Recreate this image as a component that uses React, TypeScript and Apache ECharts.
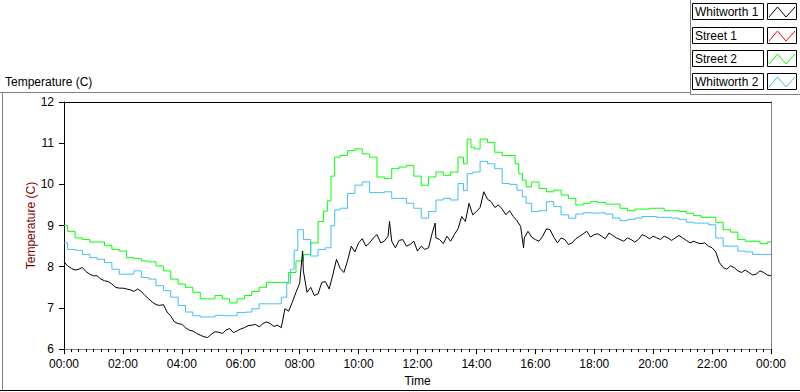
import React, { useEffect, useRef } from "react";
import * as echarts from "echarts";

// Sample grid: one reading every 15 minutes from 00:00 to 24:00
const STEP_MIN = 15;

const SERIES_NAMES = ["Whitworth 1", "Street 1", "Street 2", "Whitworth 2"];
const SERIES_COLORS = ["#000000", "#ff0000", "#00ff00", "#40bdf8"];

const whitworth1 = [
  8.12, 7.96, 7.94, 7.88, 7.78, 7.7, 7.64, 7.5, 7.48, 7.44, 7.46, 7.3, 7.14, 7.06, 6.9, 6.66,
  6.6, 6.46, 6.38, 6.3, 6.36, 6.41, 6.46, 6.4, 6.49, 6.57, 6.6, 6.62, 6.62, 6.58, 6.98, 7.14,
  7.6, 7.38, 7.3, 7.62, 7.46, 8.18, 7.86, 8.5, 8.58, 8.5, 8.7, 8.58, 8.74, 8.46, 8.66, 8.54,
  8.38, 8.42, 8.82, 8.66, 8.74, 8.78, 9.22, 9.54, 9.34, 9.82, 9.58, 9.5, 9.26, 9.22, 8.98, 8.86,
  8.66, 8.74, 8.9, 8.58, 8.66, 8.58, 8.74, 8.86, 8.78, 8.74, 8.82, 8.7, 8.62, 8.66, 8.66, 8.74,
  8.74, 8.66, 8.7, 8.7, 8.7, 8.58, 8.58, 8.58, 8.46, 8.1, 7.94, 7.98, 7.86, 7.86, 7.82, 7.86,
  7.78,
];
// Whitworth 1 readings half-way between the 15-minute samples (xx:07.5, xx:22.5, ...)
const whitworth1Mid = [
  8.02, 7.92, 7.98, 7.82, 7.78, 7.66, 7.58, 7.48, 7.46, 7.4, 7.4, 7.22, 7.08, 7.08, 6.8, 6.62,
  6.52, 6.44, 6.34, 6.28, 6.42, 6.38, 6.5, 6.44, 6.52, 6.58, 6.54, 6.66, 6.55, 6.52, 6.92, 7.38,
  7.9, 7.5, 7.34, 7.64, 7.8, 7.96, 8.14, 8.36, 8.68, 8.58, 8.78, 8.62, 8.62, 8.64, 8.5, 8.62,
  8.5, 8.46, 8.7, 8.56, 8.62, 8.92, 9.1, 9.26, 9.44, 9.64, 9.44, 9.4, 9.36, 9.12, 8.7, 8.72,
  8.62, 8.92, 8.72, 8.7, 8.54, 8.68, 8.8, 8.72, 8.8, 8.68, 8.76, 8.66, 8.7, 8.6, 8.78, 8.68,
  8.7, 8.74, 8.64, 8.76, 8.64, 8.62, 8.56, 8.5, 8.36, 7.98, 8.02, 7.9, 7.92, 7.8, 7.9, 7.8,
];
// extra short spikes of Whitworth 1: [minute, value]
const whitworth1Spikes = [
  [486, 8.38],
  [663, 9.1],
  [756, 9.06],
  [936, 8.46],
];

const street1: number[] = [];

const street2 = [
  9.0, 8.86, 8.7, 8.66, 8.6, 8.6, 8.52, 8.42, 8.38, 8.22, 8.2, 8.14, 8.12, 8.02, 7.9, 7.7,
  7.58, 7.5, 7.38, 7.22, 7.22, 7.3, 7.22, 7.12, 7.22, 7.3, 7.4, 7.5, 7.62, 7.62, 7.62, 7.86,
  8.14, 8.3, 8.58, 9.1, 9.6, 10.66, 10.7, 10.82, 10.86, 10.74, 10.66, 10.18, 10.14, 10.38, 10.42, 10.46,
  10.2, 9.98, 10.18, 10.3, 10.22, 10.3, 10.66, 11.1, 10.86, 11.1, 11.02, 10.78, 10.7, 10.7, 10.26, 9.94,
  10.06, 9.9, 9.82, 9.86, 9.74, 9.66, 9.5, 9.54, 9.58, 9.56, 9.52, 9.52, 9.42, 9.36, 9.4, 9.4,
  9.42, 9.42, 9.36, 9.36, 9.34, 9.3, 9.24, 9.2, 9.2, 9.08, 8.9, 8.84, 8.66, 8.62, 8.62, 8.56,
  8.6,
];
// extra readings on the steep parts of Street 2: [minute, value]
const street2Extra = [
  [532.5, 9.35],
  [547.5, 10.2],
  [817.5, 10.5],
  [832.5, 10.9],
  [922.5, 10.5],
  [937.5, 10.1],
];

const whitworth2 = [
  8.58, 8.42, 8.4, 8.3, 8.22, 8.18, 8.1, 7.94, 7.82, 7.82, 7.9, 7.74, 7.7, 7.54, 7.42, 7.26,
  7.06, 6.9, 6.81, 6.78, 6.78, 6.82, 6.81, 6.81, 6.89, 6.9, 6.98, 7.1, 7.1, 7.1, 7.26, 7.94,
  8.9, 8.66, 8.26, 8.42, 8.46, 9.38, 9.42, 9.78, 9.98, 10.06, 9.8, 9.8, 9.82, 9.66, 9.66, 9.54,
  9.42, 9.18, 9.34, 9.62, 9.66, 9.62, 10.02, 10.26, 10.3, 10.56, 10.5, 10.38, 10.02, 10.0, 9.86, 9.54,
  9.34, 9.36, 9.58, 9.46, 9.26, 9.18, 9.28, 9.31, 9.3, 9.31, 9.28, 9.18, 9.12, 9.15, 9.18, 9.22,
  9.22, 9.2, 9.2, 9.18, 9.15, 9.08, 9.06, 9.06, 9.02, 8.7, 8.5, 8.5, 8.38, 8.36, 8.3, 8.3,
  8.3,
];
// extra readings on the steep parts of Whitworth 2: [minute, value]
const whitworth2Extra = [
  [457.5, 7.6],
  [472.5, 8.4],
  [547.5, 9.0],
  [817.5, 9.85],
  [937.5, 9.7],
];

const Y_MIN = 6;
const Y_MAX = 12;
const X_MAX_MIN = 1440;

const FONT = "'Liberation Sans', Arial, sans-serif";

function toPairs(values: number[], offset = 0): number[][] {
  return values.map((v, i) => [i * STEP_MIN + offset, v]);
}

function merge(...lists: number[][][]): number[][] {
  const all: number[][] = [];
  lists.forEach((l) => l.forEach((p) => all.push([p[0], p[1]])));
  return all.sort((a, b) => a[0] - b[0]);
}

function fmtTime(v: number): string {
  const h = Math.floor(v / 60) % 24;
  return (h < 10 ? "0" : "") + h + ":00";
}

export default function App() {
  const ref = useRef<HTMLDivElement>(null);

  useEffect(() => {
    if (!ref.current) return;
    const chart = echarts.init(ref.current, undefined, { renderer: "svg" });

    const seriesData = [
      merge(toPairs(whitworth1), toPairs(whitworth1Mid, STEP_MIN / 2), whitworth1Spikes),
      toPairs(street1),
      merge(toPairs(street2), street2Extra),
      merge(toPairs(whitworth2), whitworth2Extra),
    ];

    const legendGraphics: any[] = [];
    SERIES_NAMES.forEach((name, i) => {
      const top = Math.round(3.3 + i * 23.33);
      legendGraphics.push({
        type: "rect",
        shape: { x: 692.5, y: top + 0.5, width: 71, height: 16 },
        style: { fill: "#ffffff", stroke: "#000000", lineWidth: 1 },
      });
      legendGraphics.push({
        type: "text",
        x: 695,
        y: top + 9,
        style: {
          text: name,
          fill: "#000000",
          font: "12px " + FONT,
          textVerticalAlign: "middle",
          verticalAlign: "middle",
        },
      });
      legendGraphics.push({
        type: "rect",
        shape: { x: 767.5, y: top + 0.5, width: 29, height: 16 },
        style: { fill: "#ffffff", stroke: "#000000", lineWidth: 1 },
      });
      legendGraphics.push({
        type: "polyline",
        shape: {
          points: [
            [769, top + 14],
            [777.5, top + 4],
            [786, top + 14],
            [795, top + 4],
          ],
        },
        style: { stroke: SERIES_COLORS[i], lineWidth: 1, fill: "none" },
      });
    });

    const option: any = {
      animation: false,
      backgroundColor: "#ffffff",
      textStyle: { fontFamily: FONT },
      grid: { left: 64, top: 102, width: 707, height: 251, show: false },
      xAxis: [
        {
          type: "value",
          min: 0,
          max: X_MAX_MIN,
          interval: 120,
          name: "Time",
          nameLocation: "middle",
          nameGap: 23,
          nameTextStyle: { color: "#000000", fontSize: 12, fontFamily: FONT },
          axisLine: { show: true, lineStyle: { color: "#808080", width: 1 } },
          axisTick: { show: true, length: 5, lineStyle: { color: "#000000" } },
          minorTick: { show: true, splitNumber: 8, length: 3, lineStyle: { color: "#000000" } },
          axisLabel: {
            color: "#000000",
            fontSize: 12,
            fontFamily: FONT,
            margin: 9,
            formatter: (v: number) => fmtTime(v),
          },
          splitLine: { show: false },
        },
        {
          type: "value",
          position: "top",
          min: 0,
          max: X_MAX_MIN,
          axisLine: { show: true, onZero: false, lineStyle: { color: "#000000", width: 1 } },
          axisTick: { show: false },
          axisLabel: { show: false },
          splitLine: { show: false },
        },
      ],
      yAxis: [
        {
          type: "value",
          min: Y_MIN,
          max: Y_MAX,
          interval: 1,
          name: "Temperature (C)",
          nameLocation: "middle",
          nameGap: 27,
          nameMoveOverlap: false,
          nameRotate: 90,
          nameTextStyle: { color: "#800000", fontSize: 12, fontFamily: FONT },
          axisLine: { show: true, lineStyle: { color: "#000000", width: 1 } },
          axisTick: { show: true, length: 5, lineStyle: { color: "#000000" } },
          axisLabel: { color: "#000000", fontSize: 12, fontFamily: FONT, margin: 10 },
          splitLine: { show: false },
        },
        {
          type: "value",
          position: "right",
          min: Y_MIN,
          max: Y_MAX,
          axisLine: { show: true, onZero: false, lineStyle: { color: "#808080", width: 1 } },
          axisTick: { show: false },
          axisLabel: { show: false },
          splitLine: { show: false },
        },
      ],
      series: SERIES_NAMES.map((name, i) => ({
        name,
        type: "line",
        data: seriesData[i],
        xAxisIndex: 0,
        yAxisIndex: 0,
        showSymbol: false,
        symbol: "none",
        step: i === 2 || i === 3 ? "middle" : false,
        lineStyle: { color: SERIES_COLORS[i], width: 1 },
        itemStyle: { color: SERIES_COLORS[i] },
        z: i === 0 ? 3 : 2,
      })),
      graphic: [
        // outer frame lines
        { type: "line", shape: { x1: 0, y1: 92.5, x2: 690, y2: 92.5 }, style: { stroke: "#808080", lineWidth: 1 } },
        { type: "line", shape: { x1: 690.5, y1: 0, x2: 690.5, y2: 94.5 }, style: { stroke: "#808080", lineWidth: 1 } },
        { type: "line", shape: { x1: 690, y1: 94.5, x2: 800, y2: 94.5 }, style: { stroke: "#808080", lineWidth: 1 } },
        { type: "line", shape: { x1: 2.5, y1: 92, x2: 2.5, y2: 391 }, style: { stroke: "#808080", lineWidth: 1 } },
        { type: "line", shape: { x1: 0, y1: 390.5, x2: 800, y2: 390.5 }, style: { stroke: "#000000", lineWidth: 1 } },
        {
          type: "text",
          x: 5,
          y: 82,
          style: {
            text: "Temperature (C)",
            fill: "#000000",
            font: "12px " + FONT,
            textVerticalAlign: "middle",
            verticalAlign: "middle",
          },
        },
        ...legendGraphics,
      ],
    };

    chart.setOption(option);
    return () => chart.dispose();
  }, []);

  return (
    <div
      ref={ref}
      style={{ width: 800, height: 392, position: "absolute", left: 0, top: 0, background: "#fff" }}
    />
  );
}
